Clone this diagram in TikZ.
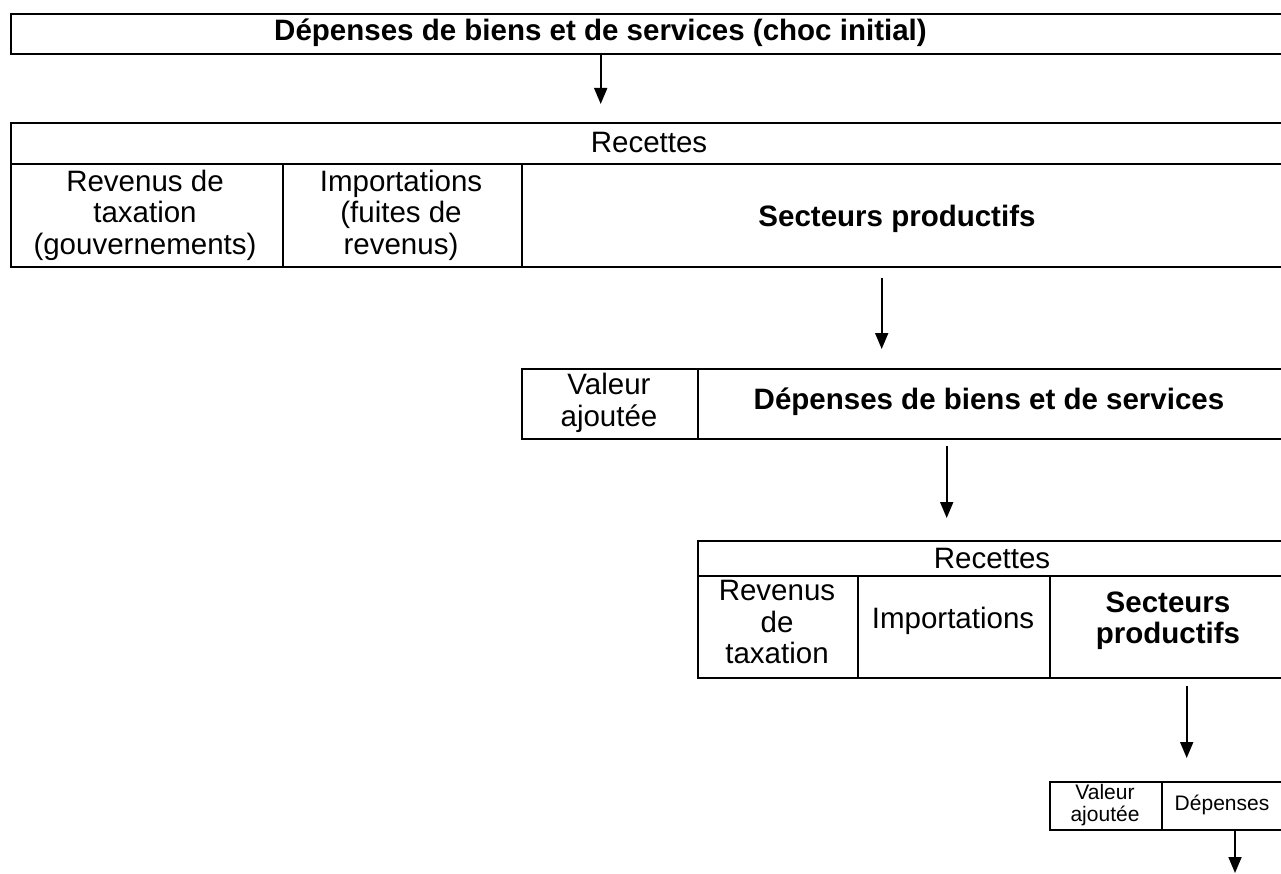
\documentclass[tikz,border=0pt]{standalone}
\usepackage{fontspec}
\setmainfont{Liberation Sans}
\usetikzlibrary{arrows.meta}
\begin{document}
\begin{tikzpicture}[x=1pt,y=-1pt,
  cell/.style={draw, line width=2.4pt, inner sep=0pt, anchor=north west},
  txt/.style={align=center, inner sep=0pt, font=\fontsize{29.5}{31.5}\selectfont},
  btxt/.style={align=center, inner sep=0pt, font=\fontsize{29.5}{31.5}\selectfont\bfseries},
  stxt/.style={align=center, inner sep=0pt, font=\fontsize{21}{22.5}\selectfont},
  arr/.style={line width=1.8pt, -{Triangle[width=13pt,length=16pt]}}
]
\useasboundingbox (0,0) rectangle (1281,874);
\clip (0,0) rectangle (1281,874);
% box 1
\node[cell, minimum width=1280.5pt, minimum height=40pt] (b1) at (9.5,13) {};
\node[btxt] (t1) at (600.5,33) {Dépenses de biens et de services (choc initial)};
% box 2
\node[cell, minimum width=1280.5pt, minimum height=41pt] (b2r) at (9.5,122) {};
\node[cell, minimum width=272.2pt, minimum height=103pt] (b2a) at (9.5,163) {};
\node[cell, minimum width=239pt, minimum height=103pt] (b2b) at (281.7,163) {};
\node[cell, minimum width=769.3pt, minimum height=103pt] (b2c) at (520.7,163) {};
\node[txt] (t2r) at (649,142) {Recettes};
\node[txt] (t2a) at (145,215) {Revenus de\\taxation\\(gouvernements)};
\node[txt] (t2b) at (401,215) {Importations\\(fuites de\\revenus)};
\node[btxt] (t2c) at (897,219) {Secteurs productifs};
% box 3
\node[cell, minimum width=175.7pt, minimum height=70pt] (b3a) at (521,368) {};
\node[cell, minimum width=593.3pt, minimum height=70pt] (b3b) at (696.7,368) {};
\node[txt] (t3a) at (609,403) {Valeur\\ajoutée};
\node[btxt] (t3b) at (989,402) {Dépenses de biens et de services};
% box 4
\node[cell, minimum width=593.3pt, minimum height=35pt] (b4r) at (696.7,540) {};
\node[cell, minimum width=160pt, minimum height=102pt] (b4a) at (696.7,575) {};
\node[cell, minimum width=192.3pt, minimum height=102pt] (b4b) at (856.7,575) {};
\node[cell, minimum width=241pt, minimum height=102pt] (b4c) at (1049,575) {};
\node[txt] (t4r) at (992,558) {Recettes};
\node[txt] (t4a) at (777,622) {Revenus\\de\\taxation};
\node[txt] (t4b) at (953,621) {Importations};
\node[btxt] (t4c) at (1168,621) {Secteurs\\productifs};
% box 5
\node[cell, minimum width=112pt, minimum height=48pt] (b5a) at (1049,781) {};
\node[cell, minimum width=129pt, minimum height=48pt] (b5b) at (1161,781) {};
\node[stxt] (t5a) at (1105,805) {Valeur\\ajoutée};
\node[stxt] (t5b) at (1222,805) {Dépenses};
% arrows
\coordinate (a1s) at (600.7,55);
\coordinate (a1e) at (600.7,104);
\coordinate (a2s) at (881.7,278);
\coordinate (a2e) at (881.7,349);
\coordinate (a3s) at (946.7,446);
\coordinate (a3e) at (946.7,518);
\coordinate (a4s) at (1186.7,686);
\coordinate (a4e) at (1186.7,758);
\coordinate (a5s) at (1235,831);
\coordinate (a5e) at (1235,873);
\draw[arr] (a1s) -- (a1e);
\draw[arr] (a2s) -- (a2e);
\draw[arr] (a3s) -- (a3e);
\draw[arr] (a4s) -- (a4e);
\draw[arr] (a5s) -- (a5e);
\end{tikzpicture}
\end{document}
